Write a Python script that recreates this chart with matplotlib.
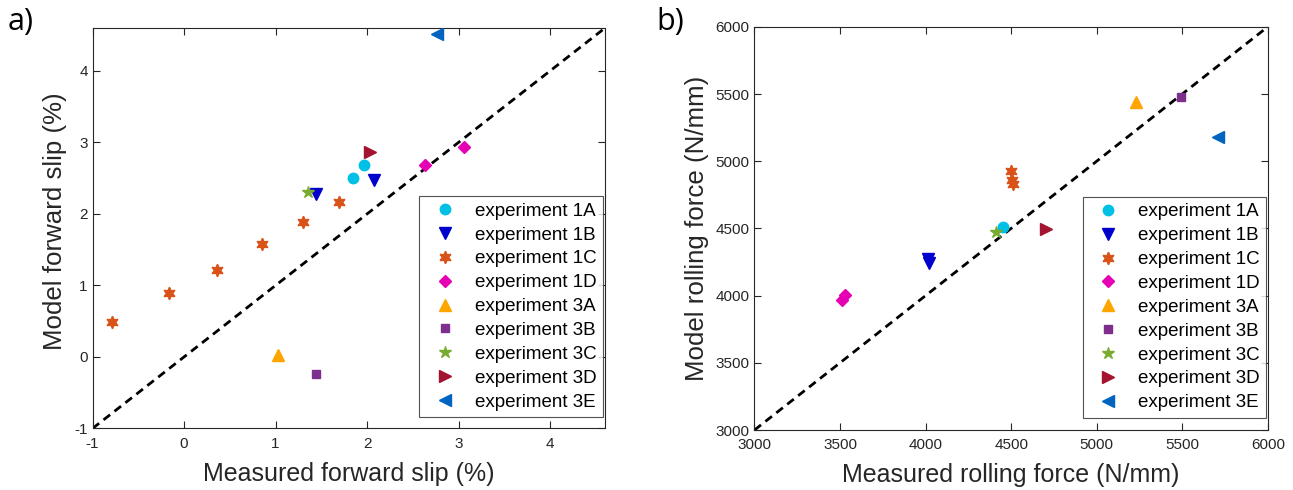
import matplotlib
matplotlib.use("Agg")
import matplotlib.pyplot as plt

plt.rcParams['font.family'] = ['Liberation Sans', 'DejaVu Sans']
plt.rcParams['axes.unicode_minus'] = False

labels = ["experiment 1A", "experiment 1B", "experiment 1C", "experiment 1D",
          "experiment 3A", "experiment 3B", "experiment 3C", "experiment 3D", "experiment 3E"]
markers = ["o", "v", (6, 1, 0), "D", "^", "s", "*", ">", "<"]
colors = ["#00C0E6", "#0000CD", "#D95319", "#E600B4", "#FFA500", "#7E2F8E", "#77AC30", "#A2142F", "#0064C0"]
msizes = [7.5, 8, 9, 6.5, 8, 6, 9, 8, 8]

# Panel a: forward slip (%)
slip_meas = [
    [1.85, 1.97],
    [1.44, 2.08],
    [-0.79, -0.16, 0.36, 0.855, 1.30, 1.69],
    [2.63, 3.06],
    [1.03],
    [1.44],
    [1.35],
    [2.03],
    [2.76],
]
slip_model = [
    [2.50, 2.69],
    [2.28, 2.47],
    [0.49, 0.89, 1.22, 1.58, 1.89, 2.16],
    [2.69, 2.94],
    [0.02],
    [-0.24],
    [2.30],
    [2.86],
    [4.51],
]

# Panel b: rolling force (N/mm)
force_meas = [
    [4450],
    [4015, 4020],
    [4500, 4505, 4510],
    [3512, 3530],
    [5229],
    [5494],
    [4412],
    [4704],
    [5708],
]
force_model = [
    [4510],
    [4272, 4245],
    [4925, 4860, 4830],
    [3965, 4005],
    [5440],
    [5480],
    [4475],
    [4493],
    [5182],
]

fig = plt.figure(figsize=(12.93, 4.9), dpi=100)
ax1 = fig.add_axes([0.0716, 0.1257, 0.3963, 0.8172])
ax2 = fig.add_axes([0.5835, 0.1224, 0.3970, 0.8229])

def draw(ax, xs, ys, lim, ticks, xlabel, ylabel, leg_anchor):
    ax.plot(lim, lim, ls=(0, (3, 2)), color="black", lw=2, zorder=1)
    for i in range(len(labels)):
        ax.plot(xs[i], ys[i], ls="none", marker=markers[i], color=colors[i],
                markersize=msizes[i], markeredgecolor=colors[i], label=labels[i], zorder=3)
    ax.set_xlim(lim)
    ax.set_ylim(lim)
    ax.set_xticks(ticks)
    ax.set_yticks(ticks)
    ax.tick_params(direction="in", top=True, right=True, labelsize=11,
                   colors="#262626", length=5, width=0.8)
    ax.tick_params(axis="x", pad=6)
    for s in ax.spines.values():
        s.set_color("#262626")
        s.set_linewidth(0.8)
    ax.set_xlabel(xlabel, fontsize=18, color="#262626", labelpad=8)
    ax.set_ylabel(ylabel, fontsize=18.6, color="#262626", labelpad=5)
    leg = ax.legend(loc="lower right", bbox_to_anchor=leg_anchor, fontsize=13.5,
                    frameon=True, fancybox=False, edgecolor="#262626", borderpad=0.35,
                    labelspacing=0.36, handletextpad=0.6, handlelength=2.0,
                    borderaxespad=0)
    leg.get_frame().set_linewidth(0.8)

draw(ax1, slip_meas, slip_model, [-1, 4.6], [-1, 0, 1, 2, 3, 4],
     "Measured forward slip (%)", "Model forward slip (%)", (0.996, 0.028))
draw(ax2, force_meas, force_model, [3000, 6000], [3000, 3500, 4000, 4500, 5000, 5500, 6000],
     "Measured rolling force (N/mm)", "Model rolling force (N/mm)", (0.997, 0.030))
ax1.yaxis.set_label_coords(-0.05, 0.518)

fig.text(0.006, 0.955, "a)", fontsize=22, family=["Open Sans", "DejaVu Sans"], va="center")
fig.text(0.508, 0.955, "b)", fontsize=22, family=["Open Sans", "DejaVu Sans"], va="center")

fig.savefig("out.png", dpi=100)
